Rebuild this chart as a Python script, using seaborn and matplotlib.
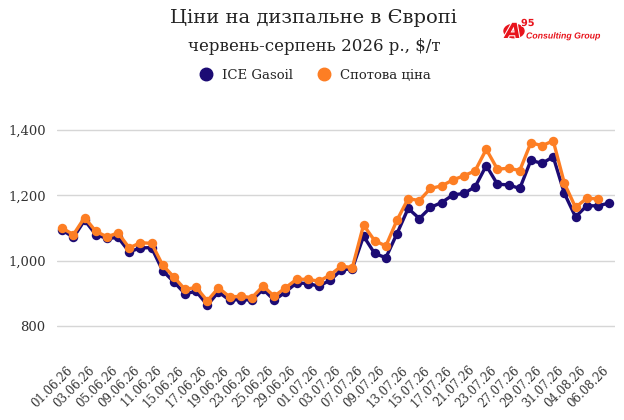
import numpy as np
import pandas as pd
import seaborn as sns
import matplotlib.pyplot as plt
import matplotlib.patheffects as pe
import matplotlib.transforms as mtransforms
from matplotlib.lines import Line2D
from matplotlib.patches import Circle


# trading days 01.06.26 - 07.08.26
dates = pd.bdate_range('2026-06-01', '2026-08-07')

ice_gasoil = [1094, 1071, 1124, 1080, 1068, 1071, 1027, 1039, 1040, 969,
              935, 899, 906, 864, 904, 879, 881, 879, 912, 879,
              904, 932, 930, 922, 940, 971, 976, 1075, 1022, 1009,
              1083, 1160, 1129, 1163, 1178, 1201, 1206, 1226, 1291, 1234,
              1232, 1221, 1307, 1298, 1318, 1206, 1134, 1168, 1168, 1176]

spot_price = [1099, 1080, 1132, 1090, 1073, 1085, 1039, 1055, 1053, 986,
              950, 912, 918, 877, 917, 889, 891, 887, 922, 891,
              917, 943, 943, 937, 956, 983, 979, 1109, 1061, 1045,
              1124, 1190, 1184, 1221, 1229, 1247, 1260, 1275, 1341, 1280,
              1283, 1276, 1361, 1352, 1367, 1237, 1163, 1191, 1189, np.nan]

series_names = ['ICE Gasoil', 'Спотова ціна']
colors = {'ICE Gasoil': '#1c0b74', 'Спотова ціна': '#fd7e24'}
y_ticks = [800, 1000, 1200, 1400]

sns.set_style('white')
plt.rcParams['font.family'] = ['DejaVu Serif']

df = pd.DataFrame({
    'idx': list(range(len(dates))) * 2,
    'value': ice_gasoil + spot_price,
    'series': [series_names[0]] * len(dates) + [series_names[1]] * len(dates),
})

fig = plt.figure(figsize=(6.24, 4.2), dpi=100)
ax = fig.add_axes([0.0909, 0.2005, 0.894, 0.5133])

sns.lineplot(data=df, x='idx', y='value', hue='series', palette=colors,
             marker='o', markersize=6.8, markeredgewidth=0, linewidth=2.4,
             ax=ax, legend=False)

ax.set_xlim(-0.5, len(dates) - 0.5)
ax.set_ylim(770, 1430)
ax.set_yticks(y_ticks)
ax.set_yticklabels([f'{v:,}' for v in y_ticks], fontsize=9.5, color='#333333')
ax.set_xticks(range(0, len(dates), 2))
ax.set_xticklabels([d.strftime('%d.%m.%y') for d in dates[::2]],
                   rotation=45, ha='right', rotation_mode='anchor',
                   fontsize=8.5, color='#333333')
ax.tick_params(axis='both', length=0, pad=8)
ax.tick_params(axis='x', pad=20)
shift = mtransforms.ScaledTranslation(4 / 100, 0, fig.dpi_scale_trans)
for lbl in ax.get_xticklabels():
    lbl.set_transform(lbl.get_transform() + shift)
ax.yaxis.grid(True, color='#d6d6d6', linewidth=1)
ax.set_axisbelow(True)
sns.despine(ax=ax, left=True, bottom=True)
ax.set_xlabel('')
ax.set_ylabel('')

fig.text(0.502, 0.957, 'Ціни на дизпальне в Європі', ha='center', va='center',
         fontsize=14, color='#222222')
fig.text(0.503, 0.89, 'червень-серпень 2026 р., $/т', ha='center', va='center',
         fontsize=12, color='#222222')

handles = [Line2D([], [], linestyle='', marker='o', markersize=9,
                  color=colors[n]) for n in series_names]
fig.legend(handles, series_names, loc='center', bbox_to_anchor=(0.5, 0.82),
           ncol=2, frameon=False, fontsize=9.5, handletextpad=0.2,
           columnspacing=1.4)

# logo
fig.patches.append(Circle((514 / 624, 1 - 31 / 420), 10 / 624, color='#e8141c',
                          transform=fig.transFigure, figure=fig))
fig.text(513 / 624, 1 - 32 / 420, 'A', ha='center', va='center', fontsize=15,
         fontweight='bold', style='italic', color='#e8141c', family='DejaVu Sans',
         path_effects=[pe.withStroke(linewidth=1.5, foreground='white')])
fig.text(521 / 624, 1 - 23 / 420, '95', ha='left', va='center', fontsize=7,
         fontweight='bold', color='#e8141c', family='DejaVu Sans',
         path_effects=[pe.withStroke(linewidth=1.2, foreground='white')])
fig.text(526 / 624, 1 - 36 / 420, 'Consulting Group', ha='left', va='center',
         fontsize=6.3, fontweight='bold', style='italic', color='#e8141c',
         family='Liberation Sans',
         path_effects=[pe.withStroke(linewidth=1.5, foreground='white')])

fig.savefig('out.png', dpi=100)
